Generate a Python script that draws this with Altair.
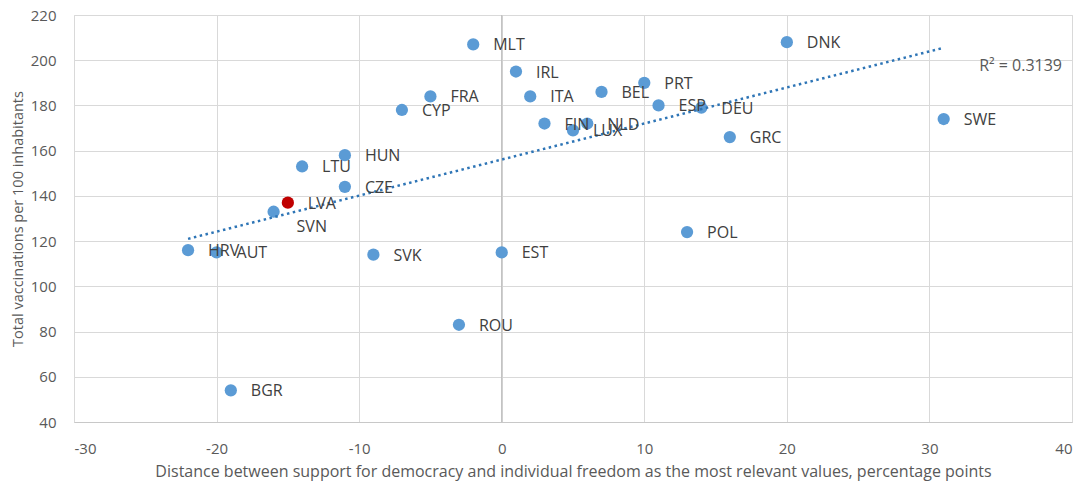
import altair as alt
import pandas as pd

countries = ["MLT", "DNK", "IRL", "FRA", "ITA", "CYP", "BEL", "PRT", "ESP", "DEU",
             "FIN", "NLD", "LUX", "GRC", "SWE", "HUN", "LTU", "CZE", "LVA", "SVN",
             "HRV", "AUT", "SVK", "EST", "POL", "ROU", "BGR"]
distance = [-2, 20, 1, -5, 2, -7, 7, 10, 11, 14,
            3, 6, 5, 16, 31, -11, -14, -11, -15, -16,
            -22, -20, -9, 0, 13, -3, -19]
vaccinations = [207, 208, 195, 184, 184, 178, 186, 190, 180, 179,
                172, 172, 169, 166, 174, 158, 153, 144, 137, 133,
                116, 115, 114, 115, 124, 83, 54]
highlight = ["LVA"]

r2_text = ["R² = 0.3139"]
r2_pos_x = [39.3]
r2_pos_y = [197.5]

x_ticks = [-30, -20, -10, 0, 10, 20, 30, 40]
y_ticks = [40, 60, 80, 100, 120, 140, 160, 180, 200, 220]

df = pd.DataFrame({"country": countries, "x": distance, "y": vaccinations})
df["hl"] = df["country"].isin(highlight)

FONT = "Open Sans"
GRAY = "#595959"

xscale = alt.Scale(domain=[-30, 40], nice=False, zero=False)
yscale = alt.Scale(domain=[40, 220], nice=False, zero=False)

xenc = alt.X("x:Q", scale=xscale,
             axis=alt.Axis(values=x_ticks, title="Distance between support for democracy and individual freedom as the most relevant values, percentage points",
                           labelExpr="'' + datum.value",
                           grid=True, gridColor="#d9d9d9", domainColor="#c8c8c8", ticks=False,
                           labelPadding=19, labelFontSize=15, labelColor=GRAY, labelFont=FONT,
                           titleFont=FONT, titleFontSize=16, titleColor=GRAY, titleFontWeight="normal",
                           titleY=49, titleBaseline="middle"))
yenc = alt.Y("y:Q", scale=yscale,
             axis=alt.Axis(values=y_ticks, title="Total vaccinations per 100 inhabitants",
                           grid=True, gridColor="#d9d9d9", domain=False, ticks=False,
                           labelPadding=18, labelFontSize=15, labelColor=GRAY, labelFont=FONT,
                           titleFont=FONT, titleFontSize=14.5, titleColor=GRAY, titleFontWeight="normal",
                           titleX=-56, titleBaseline="middle"))

base = alt.Chart(df)

zero_rule = alt.Chart(pd.DataFrame({"x0": [0]})).mark_rule(color="#bfbfbf", strokeWidth=1.3).encode(
    x=alt.X("x0:Q", scale=xscale))

points = base.mark_circle(size=150, opacity=1).encode(
    x=xenc, y=yenc,
    color=alt.condition("datum.hl", alt.value("#c00000"), alt.value("#5b9bd5")))

trend = base.transform_regression("x", "y", extent=[-22, 31]).mark_line(
    color="#2e75b6", strokeWidth=2.5, strokeDash=[2.5, 3.5]).encode(
    x=alt.X("x:Q", scale=xscale), y=alt.Y("y:Q", scale=yscale))

labels_main = base.transform_filter("datum.country != 'SVN'").mark_text(
    align="left", baseline="middle", dx=20, dy=1, fontSize=16, font=FONT, color="#404040").encode(
    x=alt.X("x:Q", scale=xscale), y=alt.Y("y:Q", scale=yscale), text="country:N")

labels_svn = base.transform_filter("datum.country == 'SVN'").mark_text(
    align="left", baseline="middle", dx=23, dy=15, fontSize=16, font=FONT, color="#404040").encode(
    x=alt.X("x:Q", scale=xscale), y=alt.Y("y:Q", scale=yscale), text="country:N")

r2 = alt.Chart(pd.DataFrame({"t": r2_text, "px": r2_pos_x, "py": r2_pos_y})).mark_text(
    align="right", baseline="middle", fontSize=16, font=FONT, color=GRAY).encode(
    x=alt.X("px:Q", scale=xscale), y=alt.Y("py:Q", scale=yscale), text="t:N")

chart = alt.layer(zero_rule, points, trend, labels_main, labels_svn, r2).properties(
    width=998, height=407,
    autosize=alt.AutoSizeParams(type="none"),
    padding={"left": 66, "top": 7, "right": 4, "bottom": 59},
).configure_view(stroke=None).configure(background="white")

chart.save("out.html", embed_options={"renderer": "svg", "actions": False})
